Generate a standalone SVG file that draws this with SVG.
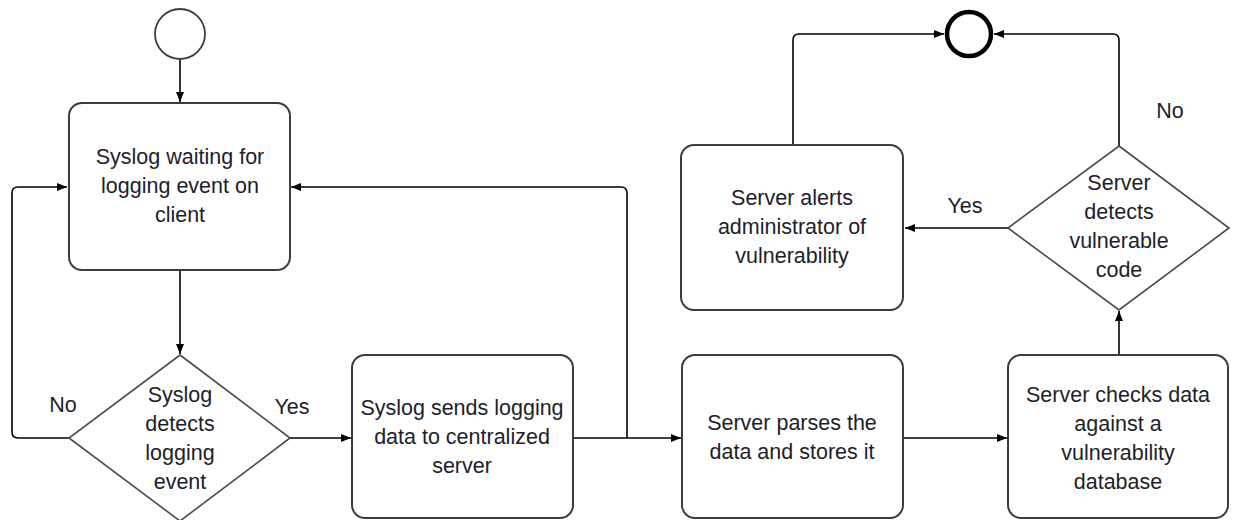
<svg xmlns="http://www.w3.org/2000/svg" width="1233" height="520" viewBox="0 0 1233 520">
<defs>
<marker id="arr" viewBox="0 0 10 10" refX="10" refY="5" markerWidth="10" markerHeight="10" markerUnits="userSpaceOnUse" orient="auto">
<path d="M0,1 L10,5 L0,9 Z" fill="#000"/>
</marker>
<style>
.box{fill:#fff;stroke:#3c3c3c;stroke-width:2}
.dia{fill:#fff;stroke:#4a4a4a;stroke-width:1.6}
.con{fill:none;stroke:#000;stroke-width:1.6;marker-end:url(#arr)}
.line{fill:none;stroke:#000;stroke-width:1.6}
text{font-family:"Liberation Sans",Arial,sans-serif;font-size:21.5px;fill:#1e1e2a;text-anchor:middle}
</style>
</defs>
<rect width="1233" height="520" fill="#fff"/>
<g id="connectors">
<path class="con" d="M180,59 L180,102"/>
<path class="con" d="M180,270 L180,354"/>
<path class="con" d="M69,438 L18,438 Q12,438 12,432 L12,193 Q12,187 18,187 L67,187"/>
<path class="con" d="M289,438 L351,438"/>
<path class="con" d="M573,438 L681,438"/>
<path class="con" d="M627,438 L627,193 Q627,187 621,187 L291,187"/>
<path class="con" d="M903,438 L1007,438"/>
<path class="con" d="M1119,355 L1119,311"/>
<path class="con" d="M1008,228 L905,228"/>
<path class="con" d="M793,145 L793,40 Q793,34 799,34 L944,34"/>
<path class="con" d="M1119,146 L1119,40 Q1119,34 1113,34 L994,34"/>
</g>
<g id="start"><circle cx="180" cy="34" r="25" fill="#fff" stroke="#3c3c3c" stroke-width="1.8"/></g>
<g id="end"><circle cx="969" cy="34" r="22" fill="#fff" stroke="#000" stroke-width="4.5"/></g>
<g id="n1">
<rect class="box" x="69" y="103" width="221" height="167" rx="13"/>
<text x="180" y="164">Syslog waiting for</text>
<text x="180" y="193">logging event on</text>
<text x="180" y="222">client</text>
</g>
<g id="d1">
<polygon class="dia" points="180,355 290,438 180,521 69,438"/>
<text x="180" y="402">Syslog</text>
<text x="180" y="431">detects</text>
<text x="180" y="460">logging</text>
<text x="180" y="489">event</text>
</g>
<g id="n2">
<rect class="box" x="352" y="355" width="221" height="163" rx="13"/>
<text x="462" y="415">Syslog sends logging</text>
<text x="462" y="444">data to centralized</text>
<text x="462" y="473">server</text>
</g>
<g id="n3">
<rect class="box" x="682" y="355" width="221" height="163" rx="13"/>
<text x="792" y="430">Server parses the</text>
<text x="792" y="459">data and stores it</text>
</g>
<g id="n4">
<rect class="box" x="1008" y="355" width="220" height="163" rx="13"/>
<text x="1118" y="402">Server checks data</text>
<text x="1118" y="431">against a</text>
<text x="1118" y="460">vulnerability</text>
<text x="1118" y="489">database</text>
</g>
<g id="d2">
<polygon class="dia" points="1119,146 1229,228 1119,310 1008,228"/>
<text x="1119" y="190">Server</text>
<text x="1119" y="219">detects</text>
<text x="1119" y="248">vulnerable</text>
<text x="1119" y="277">code</text>
</g>
<g id="n5">
<rect class="box" x="681" y="145" width="222" height="165" rx="13"/>
<text x="792" y="205">Server alerts</text>
<text x="792" y="234">administrator of</text>
<text x="792" y="263">vulnerability</text>
</g>
<g id="labels">
<text x="63" y="412">No</text>
<text x="292" y="414">Yes</text>
<text x="965" y="213">Yes</text>
<text x="1170" y="118">No</text>
</g>
</svg>
